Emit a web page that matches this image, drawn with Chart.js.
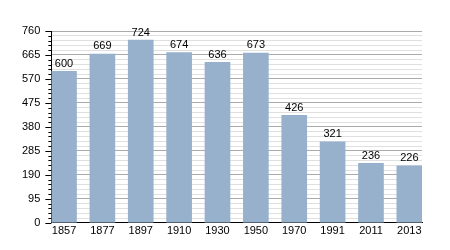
<!DOCTYPE html>
<html>
<head>
<meta charset="utf-8">
<script src="https://cdn.jsdelivr.net/npm/chart.js@4/dist/chart.umd.min.js"></script>
<style>
  html, body { margin: 0; padding: 0; background: #fff; }
  #wrap { width: 450px; height: 250px; }
</style>
</head>
<body>
<div id="wrap"><canvas id="chart"></canvas></div>
<script>
// population by census year
const years = ['1857', '1877', '1897', '1910', '1930', '1950', '1970', '1991', '2011', '2013'];
const population = [600, 669, 724, 674, 636, 673, 426, 321, 236, 226];
const yMax = 760;
const majorStep = 95;
const minorStep = 19;

// value labels above bars + y tick marks of two lengths
const extras = {
    id: 'extras',
    afterDatasetsDraw(chart) {
        const ctx = chart.ctx;
        const meta = chart.getDatasetMeta(0);
        ctx.save();
        ctx.fillStyle = '#000';
        ctx.font = '11px "Liberation Sans", Arial, sans-serif';
        ctx.textAlign = 'center';
        ctx.textBaseline = 'bottom';
        meta.data.forEach((bar, i) => {
            ctx.fillText(String(population[i]), bar.x, bar.y - 2);
        });

        const y = chart.scales.y;
        ctx.strokeStyle = '#000';
        ctx.lineWidth = 1;
        for (let v = 0; v <= yMax; v += minorStep) {
            const py = Math.round(y.getPixelForValue(v)) + 0.5;
            const len = v % majorStep === 0 ? 6 : 3;
            ctx.beginPath();
            ctx.moveTo(y.right - len, py);
            ctx.lineTo(y.right, py);
            ctx.stroke();
        }
        ctx.restore();
    }
};

// bars sit flush with both ends of the plot, so x is a linear index axis
const edge = 0.33;

new Chart(document.getElementById('chart'), {
    type: 'bar',
    data: {
        datasets: [{
            data: population.map((v, i) => ({ x: i, y: v })),
            backgroundColor: '#97b1cc',
            borderWidth: 0,
            barThickness: 25
        }]
    },
    options: {
        responsive: true,
        maintainAspectRatio: false,
        animation: false,
        layout: { padding: { top: 31, right: 28, bottom: 10, left: 11 } },
        plugins: {
            legend: { display: false },
            tooltip: { enabled: false }
        },
        scales: {
            x: {
                type: 'linear',
                min: -edge,
                max: years.length - 1 + edge,
                offset: false,
                afterBuildTicks: axis => { axis.ticks = years.map((_, i) => ({ value: i })); },
                grid: { display: false, drawTicks: false },
                border: { color: '#000', width: 1 },
                ticks: {
                    autoSkip: false,
                    maxRotation: 0,
                    color: '#000',
                    padding: 2,
                    font: { family: '"Liberation Sans", Arial, sans-serif', size: 11 },
                    callback: v => years[v]
                }
            },
            y: {
                min: 0,
                max: yMax,
                grid: {
                    drawTicks: false,
                    color: ctx => ctx.tick && ctx.tick.value % majorStep === 0 ? '#ababab' : '#e0e0e0',
                    lineWidth: 1
                },
                border: { color: '#000', width: 1 },
                ticks: {
                    stepSize: minorStep,
                    autoSkip: false,
                    color: '#000',
                    padding: 11,
                    font: { family: '"Liberation Sans", Arial, sans-serif', size: 11 },
                    callback: v => v % majorStep === 0 ? v : ''
                }
            }
        }
    },
    plugins: [extras]
});
</script>
</body>
</html>
